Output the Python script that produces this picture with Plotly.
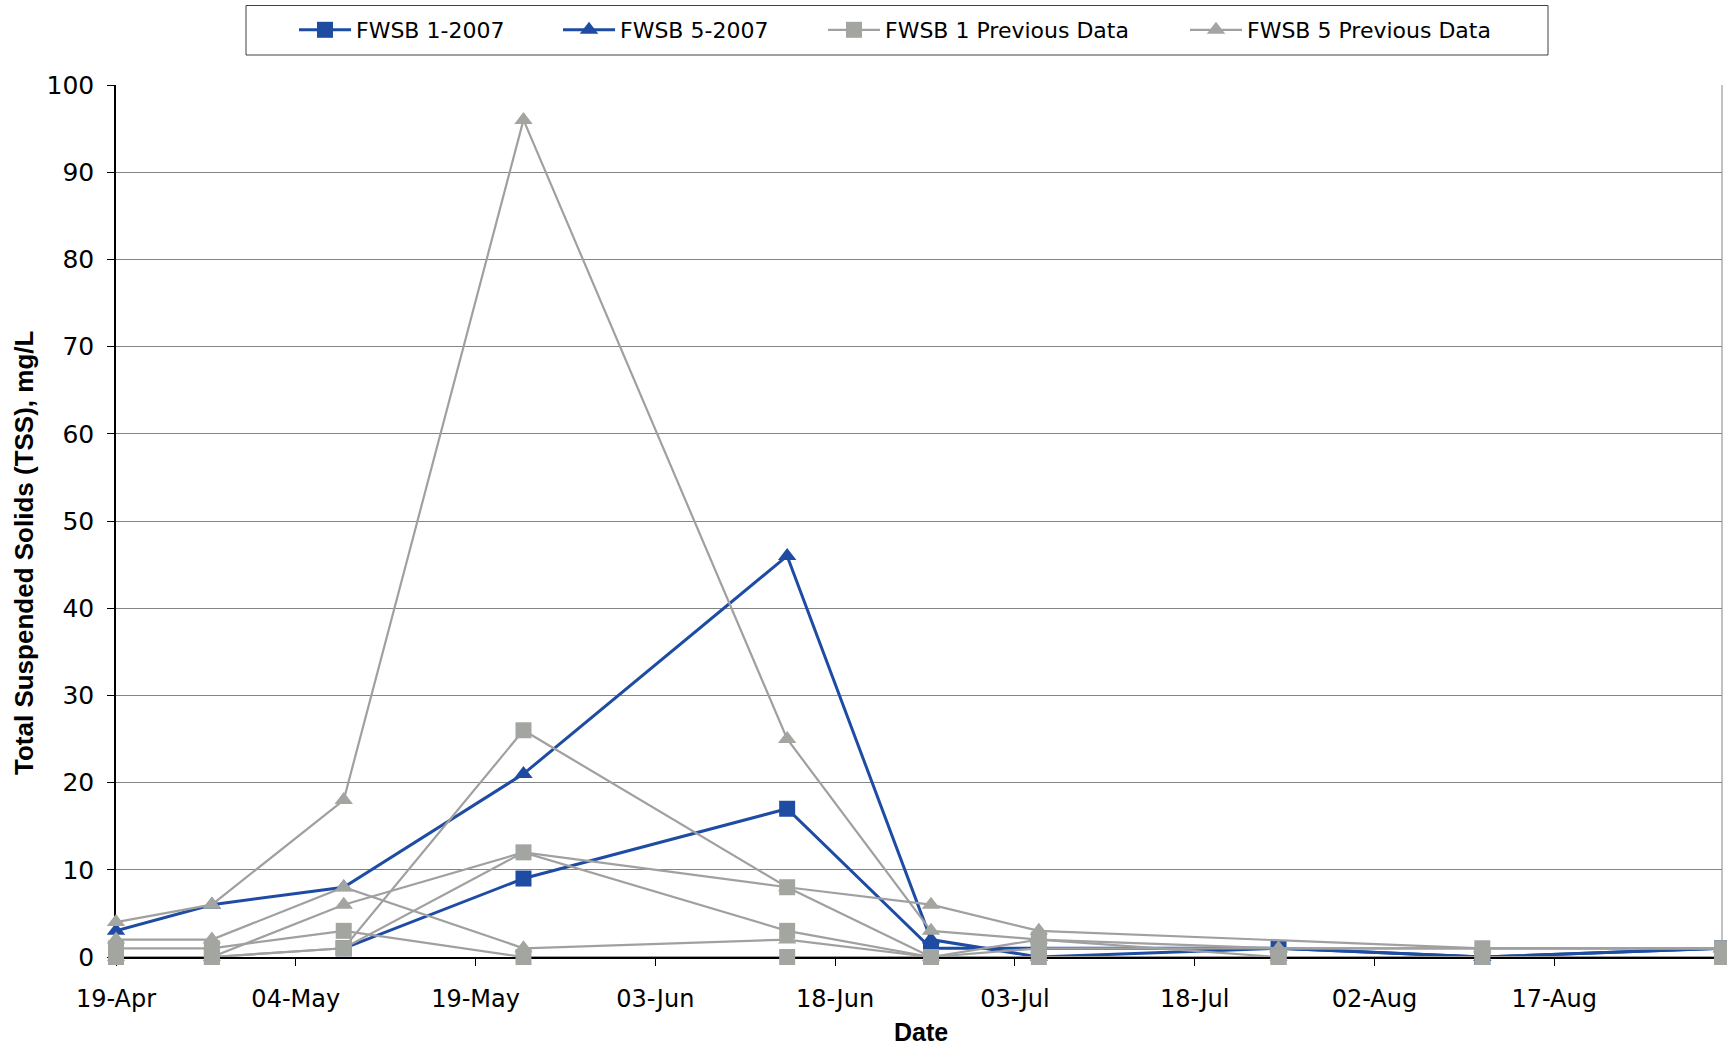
import plotly.graph_objects as go

# Sampling dates (plotted on a 2007 calendar)
dates = ["2007-04-19", "2007-04-27", "2007-05-08", "2007-05-23", "2007-06-14",
         "2007-06-26", "2007-07-05", "2007-07-25", "2007-08-11", "2007-08-31"]

# TSS results, mg/L
fwsb1_2007 = [None, None, 1, 9, 17, 1, 1, 1, 0, 1]
fwsb5_2007 = [3, 6, 8, 21, 46, 2, 0, 1, 0, 1]

# earlier monitoring seasons at the same stations
fwsb1_prev_a = [0, 0, 1, 26, 8, 0, 2, 0, 0, 0]
fwsb1_prev_b = [1, 1, 3, 0, 0, 0, 0, 0, None, None]
fwsb1_prev_c = [0, 0, 1, 12, 3, 0, 1, None, 1, 1]

fwsb5_prev_a = [4, 6, 18, 96, 25, 3, 2, 1, 1, 1]
fwsb5_prev_b = [0, 0, 6, 12, 8, 6, 3, None, 1, 1]
fwsb5_prev_c = [2, 2, 8, 1, 2, 0, 0, 0, None, None]

W, H = 1727, 1045
ML, MR, MT, MB = 116, 5, 85, 88
PW, PH = W - ML - MR, H - MT - MB

BLUE = "#1e4ca3"
GRAY_LINE = "#a0a0a0"
GRAY_MARK = "#a3a5a0"
TICK_FONT = "DejaVu Sans"
TITLE_FONT = "Liberation Sans"

fig = go.Figure()


def add_series(y, name, color, mcolor, symbol, size, width, legend, show):
    fig.add_trace(go.Scatter(
        x=dates, y=y, name=name, mode="lines+markers",
        line=dict(color=color, width=width),
        marker=dict(symbol=symbol, size=size, color=mcolor, line=dict(width=0)),
        connectgaps=True, cliponaxis=False,
        legend=legend, showlegend=show,
    ))


SQ, TRI = 16, 16

add_series(fwsb1_2007, "FWSB 1-2007", BLUE, BLUE, "square", SQ, 3, "legend", True)
add_series(fwsb5_2007, "FWSB 5-2007", BLUE, BLUE, "triangle-up", TRI, 3, "legend2", True)

for i, ys in enumerate([fwsb5_prev_a, fwsb5_prev_b, fwsb5_prev_c]):
    add_series(ys, "FWSB 5 Previous Data", GRAY_LINE, GRAY_MARK, "triangle-up", TRI, 2.2,
               "legend4", i == 0)
for i, ys in enumerate([fwsb1_prev_a, fwsb1_prev_b, fwsb1_prev_c]):
    add_series(ys, "FWSB 1 Previous Data", GRAY_LINE, GRAY_MARK, "square", SQ, 2.2,
               "legend3", i == 0)


def legend_at(text_left):
    return dict(
        x=(text_left - 64) / W, y=1 - 30 / H, xref="container", yref="container",
        xanchor="left", yanchor="middle", orientation="h", itemwidth=52,
        bgcolor="rgba(0,0,0,0)", borderwidth=0,
        font=dict(family=TICK_FONT, size=22, color="black"),
    )


fig.update_layout(
    width=W, height=H,
    margin=dict(l=ML, r=MR, t=MT, b=MB, autoexpand=False),
    paper_bgcolor="white", plot_bgcolor="white",
    legend=legend_at(358),
    legend2=legend_at(622),
    legend3=legend_at(887),
    legend4=legend_at(1249),
    xaxis=dict(
        type="date", range=["2007-04-19", "2007-08-31"],
        tick0="2007-04-19", dtick=15 * 86400000, tickformat="%d-%b",
        showgrid=False, zeroline=False,
        showline=True, linecolor="black", linewidth=1.5,
        ticks="outside", ticklen=7, tickcolor="black", tickwidth=1,
        tickfont=dict(family=TICK_FONT, size=24, color="black"),
        ticklabelstandoff=12, layer="below traces",
    ),
    yaxis=dict(
        range=[0, 100], dtick=10, tick0=0,
        showgrid=True, gridcolor="#858585", gridwidth=1, zeroline=False,
        showline=True, linecolor="black", linewidth=1.5,
        ticks="outside", ticklen=7, tickcolor="black", tickwidth=1,
        tickfont=dict(family=TICK_FONT, size=25, color="black"),
        ticklabelstandoff=8, layer="below traces",
    ),
    shapes=[
        # legend frame
        dict(type="rect", xref="paper", yref="paper",
             x0=(246 - ML) / PW, x1=(1548 - ML) / PW,
             y0=(H - MB - 55) / PH, y1=(H - MB - 5.5) / PH,
             line=dict(color="#404040", width=1), fillcolor="rgba(0,0,0,0)"),
        # right edge of the plot area
        dict(type="line", xref="paper", yref="paper", x0=1, x1=1, y0=0, y1=1,
             line=dict(color="#858585", width=1), layer="below"),
    ],
    annotations=[
        dict(text="<b>Total Suspended Solids (TSS), mg/L</b>", textangle=-90,
             xref="paper", yref="paper", x=(24 - ML) / PW, y=(H - MB - 553) / PH,
             xanchor="center", yanchor="middle", showarrow=False,
             font=dict(family=TITLE_FONT, size=26, color="black")),
        dict(text="<b>Date</b>", xref="paper", yref="paper",
             x=(921 - ML) / PW, y=(H - MB - 1032) / PH,
             xanchor="center", yanchor="middle", showarrow=False,
             font=dict(family=TITLE_FONT, size=25, color="black")),
    ],
)

fig.write_html("out.html")
